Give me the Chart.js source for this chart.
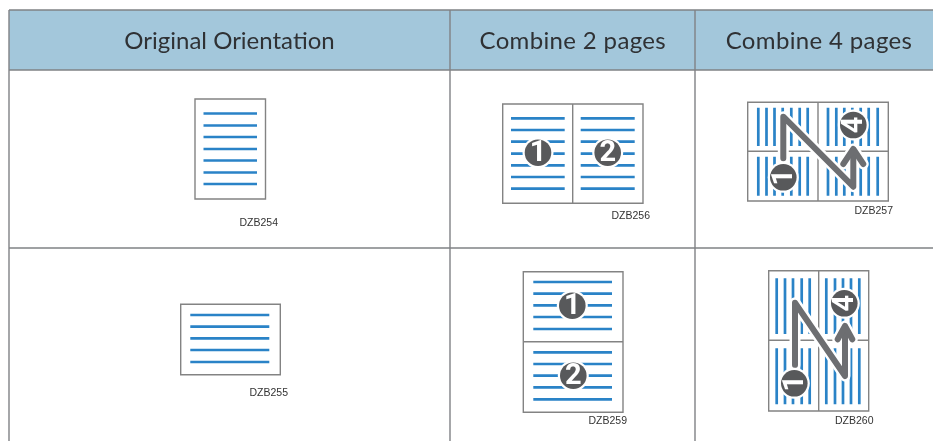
<!DOCTYPE html>
<html><head><meta charset="utf-8">
<style>html,body{margin:0;padding:0;background:#fff}canvas{display:block}</style>
<script src="https://cdn.jsdelivr.net/npm/chart.js@4"></script>
</head><body><canvas id="c" width="933" height="441"></canvas>
<script>
const columnHeaders = ["Original Orientation","Combine 2 pages","Combine 4 pages"];
const headerCentres = [229.5,572.8,819];
const headerSpacing = [0,0.35,0.35];
const headerY = 41;
const tableTop = 10, headerBottom = 70, rowLine = 248, tableLeft = 9, tableRight = 933, tableBottom = 441;
const columnLines = [450,695];

const codes = ["DZB254","DZB256","DZB257","DZB255","DZB259","DZB260"];
const codeX = [278,650,893,288,627,873.5];
const codeY = [223,216,211,393,421,421];

// page frames: left, top, right, bottom
const frames = [[195,99,265.5,199],[502.7,104,643,203.3],[747.7,102.3,888.3,201],
                [180.7,304.3,280.3,374.7],[523.3,271.7,623,412.3],[768.7,270.7,868.7,411]];
// page dividers: x1,y1,x2,y2
const dividers = [[572.7,104,572.7,203.3],[818,102.3,818,201],[747.7,151.3,888.3,151.3],
                  [523.3,341.7,623,341.7],[818.7,270.7,818.7,411],[768.7,340.3,868.7,340.3]];

// horizontal text rows: x1, x2, then y list
const rowsA = [203.5,257,[113.5,125.5,137,149,160.5,172.5,184]];
const rowsB1 = [511,564.7,[118.3,130,141.7,153.7,165.3,177,188.7]];
const rowsB2 = [580.7,634.7,[118.3,130,141.7,153.7,165.3,177,188.7]];
const rowsC = [190.3,269.3,[315,326.7,338.3,350,362]];
const rowsD1 = [533.3,612,[282,293.7,305.3,317,329]];
const rowsD2 = [533.3,612,[352.3,364,375.7,387.3,399.3]];
// vertical text columns: y1, y2, then x list
const colsE = [[758.3,766.5,774.5,782.7,791.3,799.7,807.7,828,836.3,844.3,852.3,860.7,868.7,877.7]];
const colsEy = [[107.7,146],[156.7,195.7]];
const colsF = [[776.7,785,793,801.7,809.7,826.3,835,843,851,859.3]];
const colsFy = [[278.3,334],[348.3,404.3]];

// order arrows
const arrowE = [[783.3,158.3],[783.3,116.7],[853.3,186.7],[853.3,150]];
const arrowEHead = [[843.3,164],[853.3,149],[863.3,164]];
const arrowF = [[795,365],[795,302.7],[845,376],[845,327]];
const arrowFHead = [[837.7,339.3],[845,326],[852.3,339.3]];

// numbered badges: x, y, digit, rotation flag
const badgeX = [538,607.7,783.3,853.3,572.3,573.3,794.3,844.3];
const badgeY = [152.7,152.7,177.3,125,305.7,375.7,383.3,303.3];
const badgeDigit = ["1","2","1","4","1","2","1","4"];
const badgeTurned = [false,false,true,true,false,false,true,true];

const GRID="#808285", FRAME="#838383", BLUE="#2a83c7", DARK="#58595b", ARROW="#6d6e71";

function pts(pairs){return pairs.map(p=>({x:p[0],y:p[1]}));}
function seg(list){const o=[];list.forEach(s=>{o.push({x:s[0],y:s[1]},{x:s[2],y:s[3]},{x:s[2],y:null});});return o;}
function rows(r){const o=[];r[2].forEach(y=>o.push([r[0],y,r[1],y]));return o;}
function cols(xs,ys){const o=[];ys.forEach(v=>xs.forEach(x=>o.push([x,v[0],x,v[1]])));return o;}
function rect(f){return [[f[0],f[1],f[2],f[1]],[f[2],f[1],f[2],f[3]],[f[2],f[3],f[0],f[3]],[f[0],f[3],f[0],f[1]]];}
function line(data,color,width,extra){return Object.assign({type:'scatter',showLine:true,data,borderColor:color,borderWidth:width,pointRadius:0,borderCapStyle:'butt',borderJoinStyle:'miter',fill:false,tension:0},extra||{});}

const blue = [].concat(rows(rowsA),rows(rowsB1),rows(rowsB2),rows(rowsC),rows(rowsD1),rows(rowsD2),
                       cols(colsE[0],colsEy),cols(colsF[0],colsFy));
const round={borderCapStyle:'round',borderJoinStyle:'round'};
const ds=[
  line(pts([[tableLeft,headerBottom],[tableRight,headerBottom]]),'rgba(0,0,0,0)',0,{fill:{value:tableTop},backgroundColor:"#a3c7db"}),
  line(seg(blue),BLUE,2.7,{borderColor:BLUE}),
  line(seg([].concat(...frames.map(rect),dividers)),FRAME,1.4,{borderCapStyle:'square'}),
  line(pts(arrowE),"#fff",11,round),
  line(pts(arrowEHead),"#fff",11,round),
  line(pts(arrowF),"#fff",11,round),
  line(pts(arrowFHead),"#fff",11,round),
  line(pts(arrowE),ARROW,6,round),
  line(pts(arrowEHead),ARROW,6,round),
  line(pts(arrowF),ARROW,6,round),
  line(pts(arrowFHead),ARROW,6,round),
  {type:'scatter',data:badgeX.map((x,i)=>({x,y:badgeY[i]})),pointRadius:15.5,pointBackgroundColor:"#fff",pointBorderWidth:0,showLine:false},
  {type:'scatter',data:badgeX.map((x,i)=>({x,y:badgeY[i]})),pointRadius:13.3,pointBackgroundColor:DARK,pointBorderWidth:0,showLine:false},
  line(seg([[tableLeft,tableTop,tableRight,tableTop],[tableLeft,headerBottom,tableRight,headerBottom],
            [tableLeft,rowLine,tableRight,rowLine],[tableLeft,tableTop,tableLeft,tableBottom],
            [columnLines[0],tableTop,columnLines[0],tableBottom],[columnLines[1],tableTop,columnLines[1],tableBottom]]),GRID,1.4)
];
ds.forEach((d,i)=>{d.order=-i;d.clip=false;});

const textPlugin={id:'labels',afterDatasetsDraw(chart){
  const c=chart.ctx,X=chart.scales.x,Y=chart.scales.y;
  c.save();
  c.textBaseline='middle';
  c.textAlign='center';
  c.fillStyle="#2f3134";
  c.font='400 24px Lato';
  columnHeaders.forEach((t,i)=>{
    c.letterSpacing=headerSpacing[i]+'px';
    c.fillText(t,X.getPixelForValue(headerCentres[i]),Y.getPixelForValue(headerY));
  });
  c.letterSpacing='0px';
  c.textAlign='right';
  c.fillStyle="#333";
  c.font='10.5px "Liberation Sans"';
  codes.forEach((t,i)=>c.fillText(t,X.getPixelForValue(codeX[i]),Y.getPixelForValue(codeY[i])));
  c.textAlign='center';
  c.fillStyle="#fff";
  c.font='bold 29px Roboto';
  badgeDigit.forEach((t,i)=>{
    c.save();
    c.translate(X.getPixelForValue(badgeX[i]),Y.getPixelForValue(badgeY[i]));
    if(badgeTurned[i])c.rotate(-Math.PI/2);
    c.fillText(t,0,1);
    c.restore();
  });
  c.restore();
}};

new Chart(document.getElementById('c'),{
  type:'scatter',
  data:{datasets:ds},
  options:{
    responsive:false,animation:false,
    layout:{padding:0,autoPadding:false},
    events:[],
    plugins:{legend:{display:false},tooltip:{enabled:false},title:{display:false}},
    scales:{
      x:{type:'linear',min:0,max:933,display:false},
      y:{type:'linear',min:0,max:441,reverse:true,display:false}
    }
  },
  plugins:[textPlugin]
});
</script></body></html>
